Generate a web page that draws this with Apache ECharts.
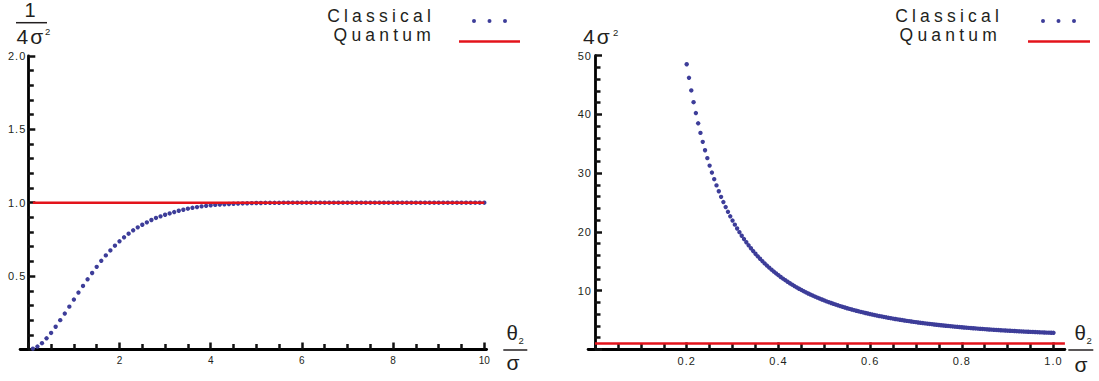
<!DOCTYPE html>
<html><head><meta charset="utf-8">
<script src="https://cdn.jsdelivr.net/npm/echarts@6/dist/echarts.min.js"></script>
<style>
html,body{margin:0;padding:0;background:#fff;}
#c{width:1099px;height:381px;}
#c text[style*="17.5px"]{letter-spacing:4.2px;}
#c text[style*="21px"]{letter-spacing:2px;}
#c text[style*="11px"]{letter-spacing:1px;}
</style></head><body><div id="c"></div>
<script>
// ---------- data ----------
const xL = [0.1,0.2,0.3,0.4,0.5,0.6,0.7,0.8,0.9,1.0,
1.1,1.2,1.3,1.4,1.5,1.6,1.7,1.8,1.9,2.0,
2.1,2.2,2.3,2.4,2.5,2.6,2.7,2.8,2.9,3.0,
3.1,3.2,3.3,3.4,3.5,3.6,3.7,3.8,3.9,4.0,
4.1,4.2,4.3,4.4,4.5,4.6,4.7,4.8,4.9,5.0,
5.1,5.2,5.3,5.4,5.5,5.6,5.7,5.8,5.9,6.0,
6.1,6.2,6.3,6.4,6.5,6.6,6.7,6.8,6.9,7.0,
7.1,7.2,7.3,7.4,7.5,7.6,7.7,7.8,7.9,8.0,
8.1,8.2,8.3,8.4,8.5,8.6,8.7,8.8,8.9,9.0,
9.1,9.2,9.3,9.4,9.5,9.6,9.7,9.8,9.9,10.0];
const classicalL = [0.006,0.020,0.043,0.076,0.113,0.155,0.200,0.245,0.292,0.340,
0.388,0.433,0.478,0.521,0.563,0.604,0.641,0.675,0.707,0.737,
0.764,0.789,0.812,0.832,0.850,0.866,0.882,0.896,0.907,0.918,
0.927,0.936,0.945,0.952,0.959,0.965,0.970,0.975,0.979,0.982,
0.985,0.987,0.989,0.991,0.993,0.994,0.995,0.996,0.997,0.998,
0.998,0.999,0.999,0.999,0.999,1.000,1.000,1.000,1.000,1.000,
1.000,1.000,1.000,1.000,1.000,1.000,1.000,1.000,1.000,1.000,
1.000,1.000,1.000,1.000,1.000,1.000,1.000,1.000,1.000,1.000,
1.000,1.000,1.000,1.000,1.000,1.000,1.000,1.000,1.000,1.000,
1.000,1.000,1.000,1.000,1.000,1.000,1.000,1.000,1.000,1.000];
const quantumXL = [0.1, 10];
const quantumL = [1, 1];

const xR = [0.200,0.205,0.210,0.215,0.220,0.225,0.230,0.235,0.240,0.245,
0.250,0.255,0.260,0.265,0.270,0.275,0.280,0.285,0.290,0.295,
0.300,0.305,0.310,0.315,0.320,0.325,0.330,0.335,0.340,0.345,
0.350,0.355,0.360,0.365,0.370,0.375,0.380,0.385,0.390,0.395,
0.400,0.405,0.410,0.415,0.420,0.425,0.430,0.435,0.440,0.445,
0.450,0.455,0.460,0.465,0.470,0.475,0.480,0.485,0.490,0.495,
0.500,0.505,0.510,0.515,0.520,0.525,0.530,0.535,0.540,0.545,
0.550,0.555,0.560,0.565,0.570,0.575,0.580,0.585,0.590,0.595,
0.600,0.605,0.610,0.615,0.620,0.625,0.630,0.635,0.640,0.645,
0.650,0.655,0.660,0.665,0.670,0.675,0.680,0.685,0.690,0.695,
0.700,0.705,0.710,0.715,0.720,0.725,0.730,0.735,0.740,0.745,
0.750,0.755,0.760,0.765,0.770,0.775,0.780,0.785,0.790,0.795,
0.800,0.805,0.810,0.815,0.820,0.825,0.830,0.835,0.840,0.845,
0.850,0.855,0.860,0.865,0.870,0.875,0.880,0.885,0.890,0.895,
0.900,0.905,0.910,0.915,0.920,0.925,0.930,0.935,0.940,0.945,
0.950,0.955,0.960,0.965,0.970,0.975,0.980,0.985,0.990,0.995,1.000];
const classicalR = [48.54,46.23,44.09,42.09,40.23,38.49,36.86,35.33,33.90,32.56,
31.29,30.10,28.98,27.92,26.92,25.97,25.08,24.23,23.42,22.66,
21.93,21.24,20.58,19.95,19.35,18.78,18.24,17.72,17.22,16.74,
16.28,15.85,15.43,15.03,14.64,14.27,13.92,13.57,13.25,12.93,
12.63,12.33,12.05,11.78,11.52,11.26,11.02,10.78,10.55,10.33,
10.12,9.91,9.72,9.52,9.34,9.16,8.98,8.81,8.65,8.49,
8.33,8.18,8.04,7.90,7.76,7.63,7.50,7.37,7.25,7.13,
7.01,6.90,6.79,6.69,6.58,6.48,6.38,6.29,6.20,6.11,
6.02,5.93,5.85,5.76,5.68,5.61,5.53,5.46,5.38,5.31,
5.24,5.18,5.11,5.05,4.99,4.92,4.86,4.81,4.75,4.69,
4.64,4.58,4.53,4.48,4.43,4.38,4.34,4.29,4.24,4.20,
4.15,4.11,4.07,4.03,3.99,3.95,3.91,3.87,3.84,3.80,
3.77,3.73,3.70,3.66,3.63,3.60,3.57,3.54,3.51,3.48,
3.45,3.42,3.39,3.37,3.34,3.31,3.29,3.26,3.24,3.22,
3.19,3.17,3.15,3.13,3.10,3.08,3.06,3.04,3.02,3.00,
2.98,2.97,2.95,2.93,2.91,2.90,2.88,2.86,2.85,2.83,2.82];
const quantumXR = [0, 1.025];
const quantumR = [1, 1];

// tick layout: [min, max, interval, minor splits]
const leftXTicks = [0, 10, 2, 4];
const leftYTicks = [0, 2, 0.5, 5];
const rightXTicks = [0, 1, 0.2, 4];
const rightYTicks = [0, 50, 10, 5];

// ---------- styling ----------
const TXT = '#231f20';
const BLUE = '#3d3d99';
const RED = '#e3131b';
const FONT = 'Liberation Sans';
const TICK = '#111111';

function pairs(xs, ys) { return xs.map((x, i) => [x, ys[i]]); }

// axis that only draws the (slightly extended) axis line
function lineAxis(gridIndex, min, max) {
  return {
    gridIndex, type: 'value', min, max,
    axisLine: { show: true, onZero: true, lineStyle: { color: '#000', width: 2.8 } },
    axisTick: { show: false }, axisLabel: { show: false }, splitLine: { show: false }
  };
}
// axis that draws major ticks, minor ticks and labels
function tickAxis(gridIndex, t, fmt, fontSize, margin, position) {
  return {
    gridIndex, type: 'value', min: t[0], max: t[1], interval: t[2], position,
    axisLine: { show: true, onZero: false, lineStyle: { color: 'rgba(0,0,0,0)', width: 1 } },
    axisTick: { show: true, inside: true, length: 7, lineStyle: { color: TICK, width: 2.5 } },
    minorTick: { show: true, splitNumber: t[3], length: 5.5, lineStyle: { color: TICK, width: 2.5 } },
    axisLabel: { show: true, showMinLabel: false, formatter: fmt, fontSize, fontFamily: FONT, color: TXT, margin },
    splitLine: { show: false }, minorSplitLine: { show: false }
  };
}
function legendItem(name, right, top, icon, w, h, padRight) {
  return {
    data: [name], orient: 'horizontal', align: 'right', right, top, padding: 0, itemGap: 0,
    icon, itemWidth: w, itemHeight: h, selectedMode: false,
    textStyle: { fontSize: 17.5, fontFamily: FONT, color: TXT, padding: [0, padRight, 0, 0] }
  };
}
// legend glyphs: the leading move-to point lowers the marks relative to the text centre
const DOTS = 'path://M0,-11M0,2a2,2 0 1,0 4,0a2,2 0 1,0 -4,0M15.5,2a2,2 0 1,0 4,0a2,2 0 1,0 -4,0M31,2a2,2 0 1,0 4,0a2,2 0 1,0 -4,0';
const LINE_L = 'path://M0,-13M0,0h61v2.5h-61z';
const LINE_R = 'path://M0,-13M0,0h62v2.5h-62z';

function txt(text, x, y, size, align, valign) {
  return { type: 'text', x, y, silent: true,
    style: { text, fontSize: size, fontFamily: FONT, fill: TXT, align: align || 'left', verticalAlign: valign || 'middle' } };
}
function bar(x1, x2, y) {
  return { type: 'line', silent: true, shape: { x1, y1: y, x2, y2: y }, style: { stroke: TXT, lineWidth: 1.5 } };
}

const chart = echarts.init(document.getElementById('c'), null, { renderer: 'svg', width: 1099, height: 381 });
chart.setOption({
  animation: false,
  backgroundColor: '#fff',
  grid: [
    { left: 20.1, top: 55.9, width: 466.5, height: 293.6, outerBoundsMode: 'none' },
    { left: 28.3, top: 55.9, width: 456, height: 293.6, outerBoundsMode: 'none' },
    { left: 588.1, top: 55.7, width: 476.8, height: 293.7, outerBoundsMode: 'none' },
    { left: 595, top: 55.7, width: 458.5, height: 293.7, outerBoundsMode: 'none' }
  ],
  xAxis: [
    lineAxis(0, -0.18, 10.05),
    tickAxis(1, leftXTicks, v => String(v), 10, 6, 'bottom'),
    lineAxis(2, -0.015, 1.025),
    tickAxis(3, rightXTicks, v => v.toFixed(1), 11, 6, 'bottom')
  ],
  yAxis: [
    lineAxis(0, 0, 2),
    tickAxis(1, leftYTicks, v => v.toFixed(1), 11, 2, 'left'),
    lineAxis(2, 0, 50),
    tickAxis(3, rightYTicks, v => String(v), 11, 3, 'left')
  ],
  legend: [
    legendItem('Classical', 592, 6.5, DOTS, 35, 15, 32),
    legendItem('Quantum', 579, 26, LINE_L, 61, 15.5, 19),
    legendItem('Classical', 23, 6.5, DOTS, 35, 15, 33),
    legendItem('Quantum', 9, 26, LINE_R, 62, 15.5, 22)
  ],
  series: [
    { name: 'Classical', type: 'scatter', xAxisIndex: 1, yAxisIndex: 1, data: pairs(xL, classicalL),
      symbol: 'circle', symbolSize: 4.4, itemStyle: { color: BLUE, opacity: 1 }, z: 2, silent: true },
    { name: 'Quantum', type: 'line', xAxisIndex: 1, yAxisIndex: 1, data: pairs(quantumXL, quantumL),
      symbol: 'none', showSymbol: false, lineStyle: { color: RED, width: 2.5 }, itemStyle: { color: RED }, z: 3, silent: true },
    { name: 'Classical', type: 'scatter', xAxisIndex: 3, yAxisIndex: 3, data: pairs(xR, classicalR),
      symbol: 'circle', symbolSize: 4.4, itemStyle: { color: BLUE, opacity: 1 }, z: 2, silent: true },
    { name: 'Quantum', type: 'line', xAxisIndex: 2, yAxisIndex: 2, data: pairs(quantumXR, quantumR),
      symbol: 'none', showSymbol: false, lineStyle: { color: RED, width: 2.5 }, itemStyle: { color: RED }, z: 3, silent: true }
  ],
  graphic: [
    // left y title: 1 / 4σ²
    txt('1', 30, 0, 20, 'center', 'top'),
    bar(16, 47, 22.7),
    txt('4σ', 16.5, 36, 21),
    txt('2', 45, 31.7, 9.5),
    // right y title: 4σ²
    txt('4σ', 583, 36, 21),
    txt('2', 613, 32.5, 9.5),
    // left x title: θ₂ / σ
    txt('θ', 506.5, 332.5, 20.5),
    txt('2', 518.5, 340, 9.5),
    bar(503.3, 527.3, 350),
    txt('σ', 506.5, 362.5, 21),
    // right x title: θ₂ / σ
    txt('θ', 1074.5, 332.5, 20.5),
    txt('2', 1086.5, 340, 9.5),
    bar(1068.3, 1093.3, 350),
    txt('σ', 1074.5, 364, 21)
  ]
});
</script></body></html>
